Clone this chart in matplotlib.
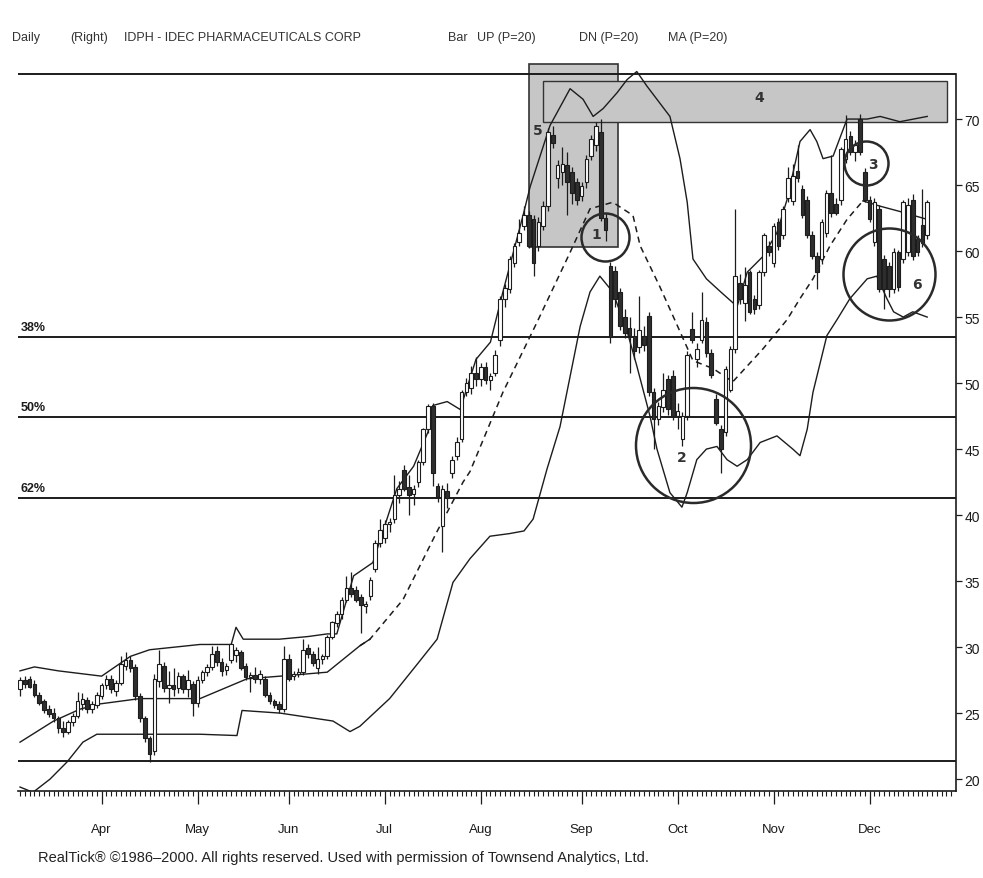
import numpy as np
import matplotlib
matplotlib.use('Agg')
import matplotlib.pyplot as plt
from matplotlib.patches import Rectangle

# Daily bars (trading day index 0 = mid March)
opens = [26.8, 27.5, 27.6, 27.2, 26.4, 25.9, 25.3, 25.0, 24.6, 23.9,
         23.6, 24.3, 24.8, 25.7, 26.0, 25.3, 25.6, 26.3, 27.1, 27.6,
         26.7, 27.3, 28.6, 29.0, 28.5, 26.3, 24.6, 23.1, 22.1, 27.4,
         28.6, 26.9, 27.1, 26.9, 27.8, 26.8, 27.2, 25.8, 27.5, 28.1,
         28.5, 29.7, 28.9, 28.3, 29.0, 29.4, 29.6, 28.6, 27.7, 27.9,
         27.6, 27.6, 26.4, 25.9, 25.7, 25.3, 29.1, 27.8, 28.0, 28.1,
         29.9, 29.5, 28.4, 29.1, 29.3, 30.8, 31.8, 32.5, 33.6, 34.5,
         34.3, 33.8, 33.1, 33.9, 35.9, 37.9, 38.3, 39.3, 39.7, 41.5,
         43.4, 42.1, 41.6, 42.5, 44.0, 46.5, 48.3, 42.2, 39.2, 41.8,
         43.2, 44.5, 45.8, 49.3, 49.6, 50.8, 50.3, 51.2, 50.2, 50.8,
         53.3, 56.4, 57.1, 59.1, 60.7, 61.9, 62.7, 62.4, 60.4, 61.9,
         63.4, 68.8, 65.5, 66.0, 66.5, 66.0, 65.2, 64.2, 65.2, 67.2,
         68.0, 69.0, 62.5, 58.9, 58.5, 56.9, 55.0, 54.2, 53.6, 52.7,
         53.6, 55.1, 49.3, 47.3, 48.2, 50.3, 50.5, 47.5, 45.8, 47.5,
         54.1, 51.8, 53.3, 54.6, 52.3, 48.8, 46.5, 46.3, 49.5, 52.6,
         57.6, 56.1, 58.4, 56.4, 55.9, 58.4, 60.4, 59.1, 62.2, 61.2,
         64.0, 63.8, 66.1, 64.7, 63.9, 61.2, 59.6, 59.4, 61.4, 64.4,
         63.6, 63.9, 67.0, 68.7, 67.5, 70.0, 66.0, 63.9, 60.7, 63.2,
         59.4, 58.9, 57.1, 59.9, 59.4, 59.9, 63.9, 60.9, 62.0, 61.2]
highs = [27.7, 27.8, 27.8, 27.5, 26.6, 26.1, 25.6, 25.4, 24.8, 24.4,
         24.5, 25.0, 26.6, 26.5, 26.2, 25.9, 26.6, 27.3, 27.9, 27.9,
         27.5, 29.3, 29.6, 29.3, 28.7, 26.5, 24.8, 23.3, 28.0, 29.8,
         28.9, 28.2, 28.4, 28.1, 28.0, 28.3, 27.4, 27.8, 28.3, 28.7,
         30.1, 30.1, 29.2, 28.8, 30.3, 30.0, 29.8, 28.8, 28.1, 28.5,
         28.3, 27.8, 26.6, 26.1, 25.9, 30.1, 29.5, 28.2, 28.4, 30.6,
         30.2, 29.7, 30.0, 29.5, 30.9, 32.0, 32.7, 33.8, 35.4, 35.7,
         34.6, 34.0, 33.5, 35.3, 38.1, 39.7, 39.6, 39.8, 43.0, 42.6,
         43.8, 43.0, 42.3, 44.2, 46.6, 48.4, 48.5, 42.4, 42.3, 42.4,
         44.5, 45.9, 49.5, 50.4, 51.3, 52.0, 51.5, 51.6, 50.8, 52.5,
         56.6, 57.5, 59.6, 60.6, 62.4, 63.4, 63.0, 62.7, 62.6, 63.8,
         69.3, 69.5, 66.9, 67.9, 67.5, 66.4, 65.5, 65.2, 67.3, 68.8,
         69.8, 70.0, 62.9, 59.2, 58.9, 57.2, 55.6, 55.0, 54.2, 56.6,
         54.3, 55.4, 49.6, 48.6, 50.8, 50.6, 51.0, 48.5, 47.8, 52.4,
         55.4, 53.0, 56.9, 55.0, 52.6, 49.2, 46.8, 51.3, 52.8, 63.2,
         58.3, 58.8, 58.6, 56.7, 58.6, 61.4, 60.8, 62.1, 62.5, 63.4,
         66.4, 66.6, 68.0, 65.0, 64.2, 61.5, 59.9, 62.4, 64.6, 67.3,
         64.0, 67.9, 70.3, 69.1, 68.4, 70.4, 66.3, 64.2, 64.0, 63.5,
         59.7, 59.2, 60.2, 60.1, 63.9, 64.0, 64.3, 61.2, 64.7, 63.9]
lows = [26.3, 26.9, 26.9, 26.2, 25.6, 25.0, 24.7, 24.3, 23.5, 23.2,
        23.4, 24.0, 24.6, 25.2, 25.0, 25.0, 25.4, 26.1, 26.8, 26.5,
        26.3, 27.1, 28.3, 28.1, 26.0, 24.3, 22.8, 21.3, 21.8, 27.0,
        26.6, 25.8, 26.3, 26.5, 26.5, 26.2, 24.8, 25.5, 27.3, 27.8,
        28.3, 28.6, 27.8, 27.9, 28.8, 28.9, 28.3, 27.5, 26.6, 27.3,
        27.2, 26.2, 25.7, 25.4, 25.0, 25.1, 27.4, 27.5, 27.7, 27.9,
        29.2, 28.6, 28.0, 28.7, 29.1, 30.6, 31.5, 32.1, 33.4, 33.8,
        33.4, 31.1, 32.6, 33.6, 35.7, 37.6, 37.9, 38.7, 39.4, 40.9,
        41.8, 40.0, 40.8, 42.1, 43.8, 46.2, 42.2, 41.0, 37.2, 40.5,
        42.8, 44.2, 45.5, 49.0, 49.2, 49.8, 49.8, 49.9, 49.5, 50.5,
        52.8, 55.8, 56.8, 58.8, 60.4, 61.6, 60.2, 58.1, 60.0, 61.6,
        63.0, 67.8, 64.8, 65.0, 62.7, 63.6, 63.5, 63.8, 64.8, 66.9,
        67.6, 62.3, 60.8, 53.0, 55.8, 54.0, 53.4, 50.8, 51.8, 52.3,
        52.4, 49.0, 45.0, 46.8, 47.8, 47.6, 47.2, 46.5, 45.2, 47.2,
        53.0, 51.2, 53.0, 52.0, 50.4, 46.8, 43.2, 46.0, 49.3, 52.3,
        56.0, 54.7, 55.2, 55.2, 55.6, 58.1, 59.6, 58.8, 60.1, 60.9,
        63.7, 63.5, 65.2, 62.5, 61.0, 59.4, 57.1, 59.0, 61.1, 62.6,
        62.7, 63.5, 66.7, 67.3, 66.8, 67.3, 63.7, 62.2, 60.4, 56.9,
        55.6, 56.5, 56.8, 57.0, 59.1, 59.6, 59.3, 59.6, 60.3, 60.9]
closes = [27.5, 27.2, 27.0, 26.4, 25.8, 25.2, 24.9, 24.6, 23.9, 23.6,
          24.3, 24.8, 25.9, 26.1, 25.3, 25.7, 26.4, 27.1, 27.6, 26.8,
          27.3, 28.7, 29.0, 28.4, 26.3, 24.6, 23.1, 21.9, 27.6, 28.7,
          26.9, 27.1, 26.8, 27.8, 26.8, 27.5, 25.8, 27.5, 28.1, 28.5,
          29.5, 28.9, 28.2, 28.6, 30.2, 29.8, 28.4, 27.7, 27.9, 27.6,
          28.0, 26.4, 25.9, 25.6, 25.3, 29.1, 27.6, 28.0, 28.1, 29.8,
          29.5, 28.8, 29.1, 29.3, 30.8, 31.9, 32.5, 33.6, 34.5, 34.0,
          33.6, 33.2, 33.3, 35.1, 37.9, 38.9, 39.3, 39.5, 41.5, 42.0,
          42.0, 41.5, 42.0, 44.0, 46.5, 48.3, 43.2, 41.4, 42.0, 41.3,
          44.2, 45.5, 49.3, 50.0, 50.8, 50.3, 51.2, 50.2, 50.5, 52.1,
          56.4, 57.2, 59.4, 60.4, 61.4, 62.7, 60.4, 59.1, 62.2, 63.4,
          69.0, 68.2, 66.5, 66.6, 65.2, 64.4, 63.9, 64.9, 67.0, 68.5,
          69.5, 62.5, 61.6, 53.5, 56.4, 54.3, 53.8, 53.6, 52.4, 54.0,
          52.9, 49.3, 47.3, 48.3, 49.5, 48.0, 47.5, 47.9, 47.5, 52.1,
          53.3, 52.6, 54.8, 52.3, 50.6, 47.0, 45.0, 51.1, 52.6, 58.1,
          56.4, 57.4, 55.4, 55.6, 58.4, 61.2, 59.9, 61.9, 60.4, 63.2,
          65.5, 65.7, 65.5, 62.7, 61.2, 59.6, 58.4, 62.2, 64.4, 62.9,
          62.9, 67.7, 68.5, 67.5, 68.0, 67.5, 63.9, 62.4, 63.7, 57.1,
          57.1, 57.1, 59.9, 57.3, 63.7, 63.5, 59.6, 59.9, 60.6, 63.7]

# UP / DN / MA (P=20) lines, read at points along each curve
up_x = [0, 3, 8, 17, 19, 23, 27, 37.5, 44, 45, 46.5, 54, 60, 64, 66,
        69.5, 73.5, 78.5, 82, 85, 86, 89, 91.7, 93, 95, 98, 100.6, 104.8,
        106.3, 110.4, 114.6, 117.3, 119.4, 121.5, 124.4, 126.5, 128.5,
        130.6, 135.4, 137.5, 139, 140.2, 143, 146, 149.4, 151.5, 154.8,
        157.7, 159.8, 162.5, 164.6, 166, 167.3, 169.4, 172.3, 176.5,
        179.2, 183.3, 189]
up_y = [28.2, 28.5, 28.2, 27.8, 28.3, 29.3, 29.8, 30.2, 30.2, 31.5, 30.6,
        30.6, 30.8, 31.0, 31.0, 35.4, 36.4, 42.0, 43.7, 46.3, 48.3, 48.6,
        48.0, 49.5, 51.8, 53.1, 56.9, 62.7, 64.9, 69.5, 72.3, 71.5, 70.2,
        70.8, 72.0, 73.0, 73.6, 72.5, 70.2, 67.0, 63.7, 59.4, 57.9, 56.9,
        55.8, 58.4, 59.6, 61.4, 63.9, 68.3, 69.2, 68.3, 67.0, 67.2, 70.0,
        70.0, 70.2, 69.8, 70.2]
dn_x = [0, 2.7, 6.25, 9.8, 13.1, 16, 37.5, 45.2, 46.25, 54.2, 65.2, 68.75,
        70.8, 77, 82.3, 86.9, 90.2, 93.75, 97.9, 102, 105, 106.9, 109.8,
        112.5, 114.6, 116.7, 118.75, 120.8, 123.5, 126.5, 128.5, 131.25,
        132.7, 135.4, 137.9, 139, 141, 143, 145.2, 147.3, 149.4, 151.5,
        154.2, 157.7, 161, 162.5, 164, 165.2, 168.1, 170.2, 172.9, 176.5,
        178.5, 180.6, 182, 184, 186, 189]
dn_y = [19.4, 19.0, 20.0, 21.3, 22.8, 23.4, 23.4, 23.3, 25.2, 25.0, 24.4,
        23.6, 24.0, 26.1, 28.5, 30.6, 34.9, 36.7, 38.4, 38.6, 38.8, 39.7,
        43.5, 46.7, 50.5, 54.3, 56.9, 58.1, 56.9, 53.9, 51.3, 47.5, 45.0,
        41.7, 40.6, 41.7, 44.2, 45.0, 45.2, 44.2, 43.7, 44.2, 45.5, 46.0,
        45.0, 44.5, 46.5, 49.3, 53.6, 54.8, 56.4, 57.9, 58.1, 56.4, 55.4,
        55.0, 55.4, 55.0]
ma_x = [0, 7, 12.5, 16.7, 25, 37.5, 47.3, 54.2, 64, 70.8, 72.9, 79.8, 86.8,
        92.3, 93.75, 100.6, 107.7, 114.6, 118.75, 123.5, 127.7, 129.2,
        133.3, 137.5, 140.2, 144.4, 148.5, 154.8, 159.8, 162.5, 165.2,
        168.75, 172.3, 175.6, 179.2, 183.3, 189]
ma_y = [22.8, 24.4, 25.3, 25.7, 26.1, 26.1, 27.6, 27.8, 28.1, 30.1, 30.6,
        33.6, 38.7, 42.5, 43.3, 49.3, 54.6, 59.9, 63.2, 63.7, 62.7, 60.4,
        57.3, 53.9, 51.7, 51.1, 50.1, 52.6, 54.8, 56.4, 57.9, 60.4, 62.4,
        63.8, 63.4, 63.0, 62.4]

# retracement lines (high, 38%, 50%, 62%, low)
fib_levels = [73.4, 53.5, 47.4, 41.3, 21.4]
fib_labels = ['', '38%', '50%', '62%', '']

month_names = ['Apr', 'May', 'Jun', 'Jul', 'Aug', 'Sep', 'Oct', 'Nov', 'Dec']
month_start = [17, 37, 56, 76, 96, 117, 137, 157, 177]
price_ticks = [20, 25, 30, 35, 40, 45, 50, 55, 60, 65, 70]

# hand-drawn marks: circles (x, y, diameter px) and numbered labels
circle_x = [121.9, 140.2, 176.2, 181.0]
circle_y = [61.1, 45.3, 66.7, 58.3]
circle_d = [48, 115, 44, 92]
note_x = [120.0, 137.9, 177.7, 186.9, 107.9, 154.0]
note_y = [61.3, 44.4, 66.6, 57.5, 69.2, 71.7]
note_txt = ['1', '2', '3', '6', '5', '4']

INK = '#1c1c1c'

fig = plt.figure(figsize=(9.83, 8.79), dpi=100)
ax = fig.add_axes([18 / 983, 1 - 792 / 879, 938 / 983, 732 / 879])
ax.set_xlim(-0.42, 195.0)
ax.set_ylim(19.1, 74.55)

# shaded zones 5 and 4
ax.add_patch(Rectangle((106.0, 60.3), 18.6, 13.9, facecolor='#c6c6c6',
                       edgecolor='#333333', lw=1.2, zorder=1))
ax.add_patch(Rectangle((109.0, 69.8), 84.1, 3.1, facecolor='#c6c6c6',
                       edgecolor='#333333', lw=1.0, zorder=1.2))

for lvl, lab in zip(fib_levels, fib_labels):
    ax.axhline(lvl, color=INK, lw=1.4, zorder=2)
    if lab:
        ax.text(0.2, lvl + 0.3, lab, fontsize=9, fontweight='bold',
                color=INK, va='bottom', ha='left', family='Liberation Sans')

# bands
ax.plot(up_x, up_y, color=INK, lw=1.0, zorder=2)
ax.plot(dn_x, dn_y, color=INK, lw=1.0, zorder=2)
ma_x = np.array(ma_x)
ma_y = np.array(ma_y)
solid_a = ma_x <= 72.9
solid_b = ma_x >= 175.6
dash = (ma_x >= 70.8) & (ma_x <= 175.6)
ax.plot(ma_x[solid_a], ma_y[solid_a], color=INK, lw=1.0, zorder=2)
ax.plot(ma_x[solid_b], ma_y[solid_b], color=INK, lw=1.0, zorder=2)
ax.plot(ma_x[dash], ma_y[dash], color=INK, lw=1.1, ls=(0, (4, 3)), zorder=2)

# candles
o = np.array(opens)
h = np.array(highs)
l = np.array(lows)
c = np.array(closes)
x = np.arange(len(c))
rise = c >= o
ax.vlines(x, l, h, color=INK, lw=0.9, zorder=3)
body_lo = np.minimum(o, c)
body_h = np.maximum(np.abs(c - o), 0.12)
ax.bar(x[rise], body_h[rise], bottom=body_lo[rise], width=0.75,
       facecolor='white', edgecolor=INK, lw=0.8, zorder=4)
ax.bar(x[~rise], body_h[~rise], bottom=body_lo[~rise], width=0.75,
       facecolor='#2e2e2e', edgecolor=INK, lw=0.8, zorder=4)

# circles and numbers
for cx, cy, d in zip(circle_x, circle_y, circle_d):
    ax.plot(cx, cy, 'o', ms=d * 0.72, mfc='none', mec='#2a2a2a', mew=1.8,
            zorder=5)
for nx, ny, t in zip(note_x, note_y, note_txt):
    ax.text(nx, ny, t, fontsize=10, fontweight='bold', color='#333333',
            ha='center', va='center', zorder=6, family='DejaVu Sans')

# axes
for side in ['left', 'top']:
    ax.spines[side].set_visible(False)
ax.spines['right'].set_color(INK)
ax.spines['bottom'].set_color(INK)
ax.spines['right'].set_linewidth(1.2)
ax.spines['bottom'].set_linewidth(1.2)
ax.spines['right'].set_bounds(19.1, 73.4)
ax.yaxis.tick_right()
ax.set_yticks(price_ticks)
ax.set_yticklabels([str(p) for p in price_ticks])
ax.tick_params(axis='y', length=4, width=0.9, pad=2, labelsize=10,
               colors=INK)
ax.set_xticks(month_start)
ax.set_xticklabels(month_names)
ax.set_xticks(np.arange(0, 195), minor=True)
ax.tick_params(axis='x', which='major', length=9, width=0.9, pad=14,
               labelsize=9.5, colors=INK)
ax.tick_params(axis='x', which='minor', length=3.5, width=0.8, colors=INK)
for lbl in ax.get_xticklabels() + ax.get_yticklabels():
    lbl.set_family('Liberation Sans')

# header and footer
head = [(12, 'Daily'), (70, '(Right)'), (124, 'IDPH - IDEC PHARMACEUTICALS CORP'),
        (448, 'Bar'), (477, 'UP (P=20)'), (579, 'DN (P=20)'), (668, 'MA (P=20)')]
for px, s in head:
    fig.text(px / 983, 1 - 38 / 879, s, fontsize=9, color='#333333',
             va='center', ha='left', family='Liberation Sans')
fig.text(38 / 983, 1 - 858 / 879,
         'RealTick\u00ae \u00a91986\u20132000. All rights reserved. Used with '
         'permission of Townsend Analytics, Ltd.',
         fontsize=10.5, color='#222222', va='center', ha='left',
         family='Liberation Sans')

fig.savefig('out.png', dpi=100, facecolor='white')
